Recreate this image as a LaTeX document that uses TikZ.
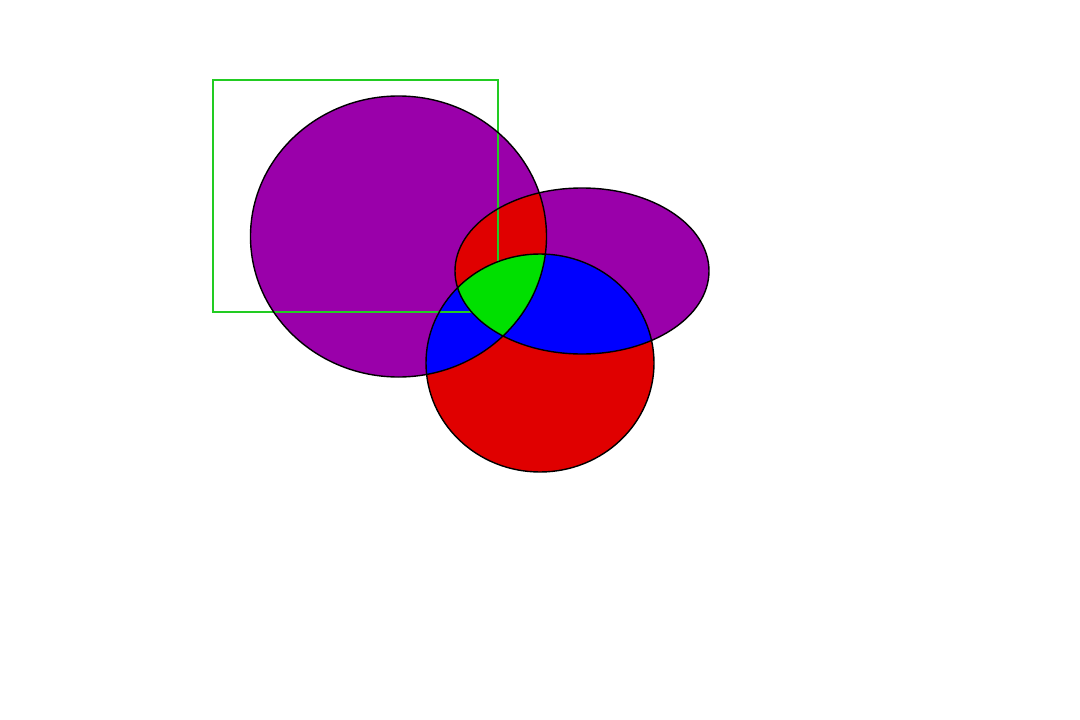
\documentclass[tikz,border=0pt]{standalone}
\usetikzlibrary{positioning}
\definecolor{mauve}{HTML}{9A00AA}
\definecolor{hot}{HTML}{E00000}
\definecolor{deep}{HTML}{0000FF}
\definecolor{lime}{HTML}{00E000}
\definecolor{frame}{HTML}{22CC22}
\newcommand{\bigdisc}{(398.5,236.5) ellipse [x radius=148, y radius=140.5]}
\newcommand{\flatoval}{(582,271) ellipse [x radius=127, y radius=83]}
\newcommand{\lowdisc}{(540,363) ellipse [x radius=114, y radius=109]}

\begin{document}
\begin{tikzpicture}[x=1pt, y=-1pt]
  \useasboundingbox (0,0) rectangle (1080,720);
  % single regions
  \fill[mauve] \bigdisc;
  \fill[mauve] \flatoval;
  \fill[hot] \lowdisc;
  % pairwise overlaps
  \begin{scope}
    \clip \bigdisc;
    \fill[hot] \flatoval;
    \fill[deep] \lowdisc;
  \end{scope}
  \begin{scope}
    \clip \flatoval;
    \fill[deep] \lowdisc;
  \end{scope}
  \draw[frame, line width=1.6pt] (213,80) rectangle (498,312);
  % triple overlap
  \begin{scope}
    \clip \bigdisc;
    \clip \flatoval;
    \fill[lime] \lowdisc;
  \end{scope}
  % outlines
  \draw[line width=1.4pt] \bigdisc;
  \draw[line width=1.4pt] \flatoval;
  \draw[line width=1.4pt] \lowdisc;
\end{tikzpicture}
\end{document}
